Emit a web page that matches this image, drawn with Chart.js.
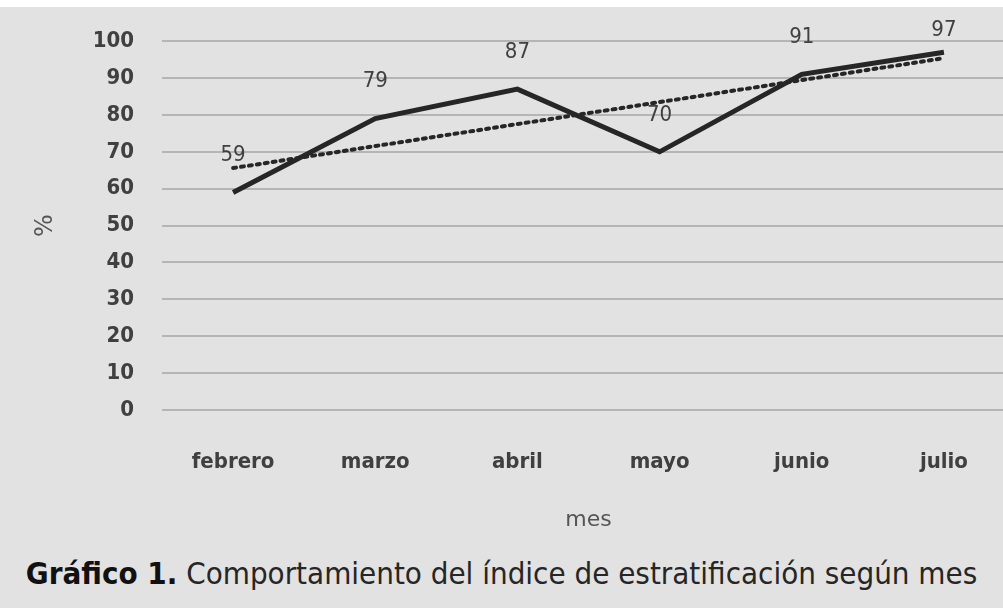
<!DOCTYPE html>
<html>
<head>
<meta charset="utf-8">
<script src="https://cdn.jsdelivr.net/npm/chart.js@4"></script>
<style>
  html, body { margin: 0; padding: 0; background: #fff; overflow: hidden; }
  body { width: 1003px; height: 608px; position: relative; }
  #bg { position: absolute; left: 0; top: 7px; width: 1003px; height: 601px; background: #e2e2e2; }
  #wrap { position: absolute; left: 0; top: 0; }
  #caption {
    position: absolute; left: 0; top: 555px; width: 1003px; text-align: center;
    font-family: "DejaVu Sans Condensed", "DejaVu Sans", sans-serif; font-size: 31px;
    color: #262626; white-space: nowrap;
  }
  #caption b { color: #111; }
</style>
</head>
<body>
<div id="bg"></div>
<div id="wrap"><canvas id="chart" width="1015" height="545"></canvas></div>
<div id="caption"><b>Gráfico 1.</b> Comportamiento del índice de estratificación según mes</div>

<script>
const months = ["febrero", "marzo", "abril", "mayo", "junio", "julio"];
const values = [59, 79, 87, 70, 91, 97];
// trend line end points
const trend = [65.6, null, null, null, null, 95.4];

const textColor = "#404040";
const tickFont = { family: "'DejaVu Sans Condensed', 'DejaVu Sans', sans-serif", size: 22, weight: "bold" };

// value labels above each point
const pointLabels = {
  id: "pointLabels",
  afterDatasetsDraw(chart) {
    const ctx = chart.ctx;
    const meta = chart.getDatasetMeta(0);
    ctx.save();
    ctx.font = "22px 'DejaVu Sans Condensed', 'DejaVu Sans', sans-serif";
    ctx.fillStyle = textColor;
    ctx.textAlign = "center";
    ctx.textBaseline = "middle";
    meta.data.forEach((pt, i) => {
      const y = Math.max(pt.y - 37, 30);
      ctx.fillText(String(values[i]), pt.x, y);
    });
    ctx.restore();
  }
};

new Chart(document.getElementById("chart").getContext("2d"), {
  type: "line",
  data: {
    labels: months,
    datasets: [
      {
        data: values,
        borderColor: "#262626",
        borderWidth: 5,
        pointRadius: 0,
        tension: 0,
        order: 0,
      },
      {
        data: trend,
        spanGaps: true,
        borderColor: "#262626",
        borderWidth: 4,
        borderDash: [3, 5],
        borderCapStyle: "round",
        pointRadius: 0,
        order: 1,
      },
    ],
  },
  options: {
    responsive: false,
    animation: false,
    layout: { padding: { top: 41, left: 0, right: 0, bottom: 0 } },
    plugins: { legend: { display: false }, tooltip: { enabled: false } },
    scales: {
      x: {
        offset: true,
        grid: { display: false },
        border: { display: false },
        ticks: {
          color: textColor,
          font: tickFont,
          padding: 31,
          maxRotation: 0,
        },
        title: {
          display: true,
          text: "mes",
          color: "#555",
          font: { family: "'DejaVu Sans', sans-serif", size: 22 },
          padding: { top: 0, bottom: 12 },
        },
        afterFit(scale) { scale.height = 135; },
      },
      y: {
        min: 0,
        max: 100,
        ticks: {
          stepSize: 10,
          color: textColor,
          font: tickFont,
          padding: 28,
        },
        grid: { color: "#b5b5b5", lineWidth: 2, drawTicks: false },
        border: { display: false },
        title: {
          display: true,
          text: "%",
          color: "#555",
          font: { family: "'DejaVu Sans', sans-serif", size: 24 },
          padding: { top: 31, bottom: 0 },
        },
        afterFit(scale) { scale.width = 162; },
      },
    },
  },
  plugins: [pointLabels],
});
</script>
</body>
</html>
